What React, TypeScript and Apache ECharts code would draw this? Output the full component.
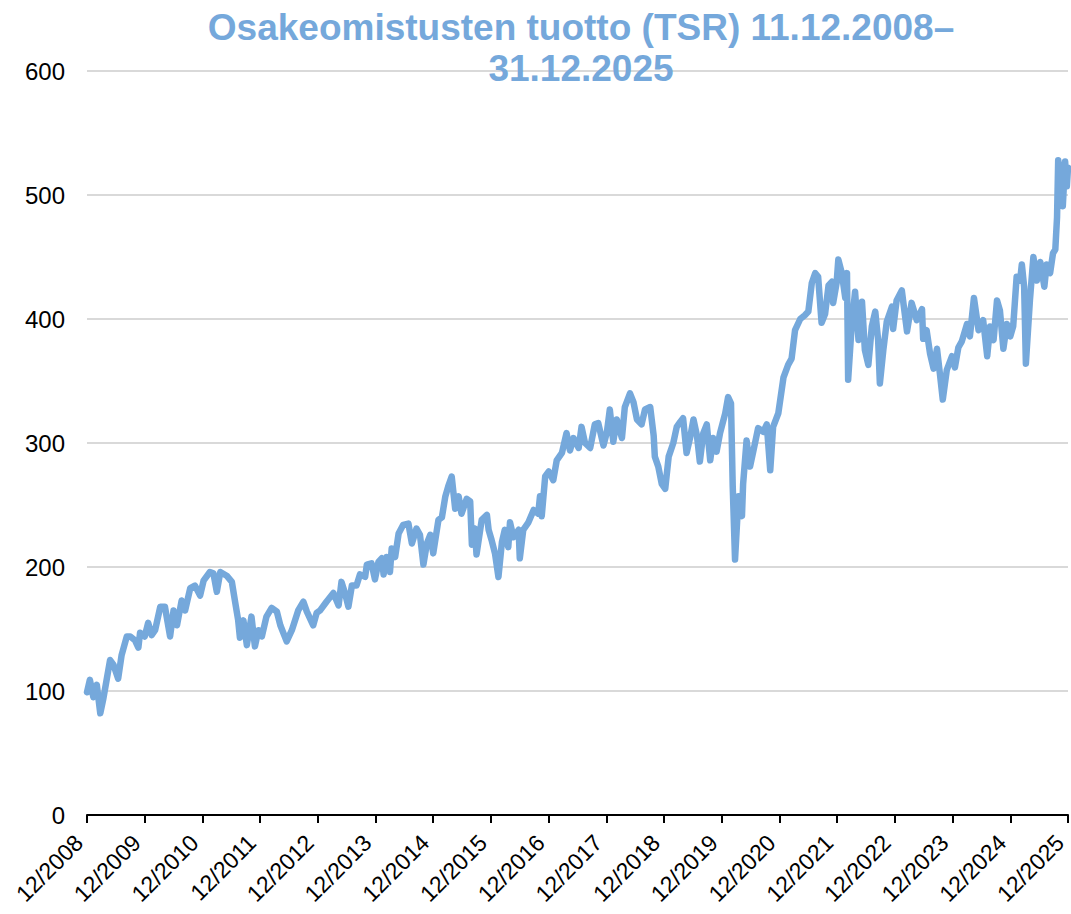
import React, { useEffect, useRef } from "react";
import * as echarts from "echarts";

// x = years elapsed since 12/2008, y = TSR index (start = 100)
const tsr2009to2012: [number, number][] = [
  [0, 99], [0.05, 109], [0.11, 95], [0.17, 105], [0.23, 82], [0.28, 93], [0.34, 109], [0.4, 125],
  [0.46, 121], [0.54, 110], [0.6, 129], [0.69, 144], [0.75, 144], [0.83, 141], [0.89, 135], [0.92, 147],
  [1.0, 144], [1.06, 155], [1.12, 145], [1.18, 149], [1.27, 168], [1.35, 168], [1.44, 144], [1.5, 165],
  [1.56, 153], [1.64, 173], [1.7, 165], [1.79, 183], [1.87, 185], [1.96, 177], [2.02, 189], [2.13, 196],
  [2.19, 195], [2.25, 180], [2.31, 196], [2.42, 193], [2.51, 188], [2.57, 171], [2.62, 157], [2.65, 143],
  [2.71, 157], [2.77, 137], [2.85, 160], [2.91, 136], [2.97, 149], [3.03, 144], [3.11, 160], [3.2, 167],
  [3.29, 164], [3.35, 153], [3.46, 140], [3.55, 149], [3.66, 165], [3.75, 172], [3.81, 164], [3.92, 153],
  [3.98, 163],
];

const tsr2013to2016: [number, number][] = [
  [4.04, 165], [4.15, 172], [4.27, 179], [4.36, 169], [4.41, 188], [4.47, 179], [4.53, 168], [4.59, 185],
  [4.67, 185], [4.73, 194], [4.82, 192], [4.85, 202], [4.93, 203], [4.99, 190], [5.05, 204], [5.11, 207],
  [5.14, 194], [5.19, 208], [5.25, 196], [5.28, 215], [5.34, 208], [5.4, 227], [5.48, 234], [5.57, 235],
  [5.63, 219], [5.71, 231], [5.77, 226], [5.83, 202], [5.89, 219], [5.95, 226], [6.0, 211], [6.09, 238],
  [6.15, 240], [6.21, 257], [6.26, 265], [6.32, 273], [6.38, 247], [6.44, 257], [6.49, 243], [6.58, 255],
  [6.64, 253], [6.67, 218], [6.72, 231], [6.75, 210], [6.84, 238], [6.93, 242], [6.96, 230], [7.01, 222],
  [7.07, 211], [7.13, 192], [7.19, 220], [7.24, 230], [7.3, 216], [7.33, 236], [7.39, 224], [7.48, 230],
  [7.5, 207], [7.56, 230], [7.65, 236], [7.74, 246], [7.82, 243],
];

const tsr2017to2020: [number, number][] = [
  [7.85, 257], [7.88, 241], [7.94, 273], [8.0, 277], [8.08, 270], [8.14, 286], [8.23, 292], [8.31, 308],
  [8.37, 294], [8.43, 304], [8.52, 296], [8.57, 313], [8.63, 300], [8.72, 296], [8.8, 315], [8.86, 316],
  [8.95, 298], [9.01, 309], [9.06, 327], [9.12, 301], [9.18, 319], [9.27, 304], [9.32, 329], [9.41, 340],
  [9.47, 333], [9.53, 319], [9.61, 315], [9.67, 327], [9.76, 329], [9.82, 306], [9.84, 289], [9.9, 281],
  [9.96, 267], [10.02, 263], [10.08, 289], [10.16, 300], [10.22, 313], [10.28, 317], [10.33, 320], [10.39, 292],
  [10.45, 304], [10.51, 319], [10.57, 306], [10.62, 285], [10.68, 308], [10.74, 315], [10.8, 286], [10.85, 304],
  [10.91, 293], [10.97, 308], [11.06, 324], [11.11, 337], [11.16, 332], [11.19, 265], [11.23, 206], [11.29, 257],
  [11.35, 241], [11.37, 267], [11.43, 302], [11.49, 281], [11.55, 294], [11.63, 312], [11.72, 309], [11.78, 315],
  [11.84, 278], [11.89, 313],
];

const tsr2021to2025: [number, number][] = [
  [11.98, 324], [12.07, 353], [12.15, 363], [12.21, 368], [12.27, 391], [12.36, 400], [12.44, 403], [12.5, 406],
  [12.56, 429], [12.62, 437], [12.67, 434], [12.73, 397], [12.79, 404], [12.85, 427], [12.91, 430], [12.93, 413],
  [12.99, 429], [13.02, 448], [13.08, 437], [13.14, 417], [13.17, 437], [13.19, 351], [13.25, 394], [13.31, 422],
  [13.37, 383], [13.43, 414], [13.48, 375], [13.54, 363], [13.6, 394], [13.66, 406], [13.71, 383], [13.74, 348],
  [13.8, 375], [13.86, 398], [13.95, 410], [13.97, 392], [14.03, 415], [14.12, 423], [14.21, 390], [14.29, 413],
  [14.38, 399], [14.47, 408], [14.49, 384], [14.55, 391], [14.61, 372], [14.67, 360], [14.73, 376], [14.78, 356],
  [14.83, 335], [14.9, 359], [14.99, 370], [15.04, 361], [15.1, 377], [15.16, 382], [15.25, 396], [15.3, 386],
  [15.37, 417], [15.45, 391], [15.53, 399], [15.6, 370], [15.65, 394], [15.71, 383], [15.77, 415], [15.82, 407],
  [15.88, 376], [15.94, 396], [16.0, 386], [16.05, 394], [16.11, 434], [16.17, 431], [16.2, 444], [16.24, 426],
  [16.27, 364], [16.34, 415], [16.4, 450], [16.46, 431], [16.52, 446], [16.59, 426], [16.63, 444], [16.69, 437],
  [16.74, 453], [16.78, 456], [16.81, 482], [16.83, 528], [16.88, 512], [16.91, 491], [16.95, 527], [16.98, 507],
  [17.0, 522],
];

const xTickLabels = [
  "12/2008", "12/2009", "12/2010", "12/2011", "12/2012", "12/2013", "12/2014", "12/2015", "12/2016",
  "12/2017", "12/2018", "12/2019", "12/2020", "12/2021", "12/2022", "12/2023", "12/2024", "12/2025",
];

const titleText = "Osakeomistusten tuotto (TSR) 11.12.2008–\n31.12.2025";

const BLUE = "#75A8DB";
const FONT = "'Liberation Sans', Arial, sans-serif";

export default function App() {
  const ref = useRef<HTMLDivElement>(null);

  useEffect(() => {
    if (!ref.current) return;
    const chart = echarts.init(ref.current, null, { renderer: "svg" });
    const data = [...tsr2009to2012, ...tsr2013to2016, ...tsr2017to2020, ...tsr2021to2025];
    chart.setOption({
      animation: false,
      backgroundColor: "#ffffff",
      title: {
        text: titleText,
        left: 576,
        top: 2,
        textAlign: "center",
        z: 10,
        textStyle: {
          fontFamily: FONT,
          fontSize: 37,
          fontWeight: "bold",
          color: BLUE,
          lineHeight: 41,
        },
      },
      grid: {
        left: 87,
        right: 3,
        top: 71,
        bottom: 99,
        containLabel: false,
        outerBoundsMode: "none",
      },
      xAxis: {
        type: "value",
        min: 0,
        max: 17,
        interval: 1,
        axisLine: { show: true, lineStyle: { color: "#000000", width: 2 } },
        axisTick: { show: true, length: 8, lineStyle: { color: "#000000", width: 2 } },
        splitLine: { show: false },
        axisLabel: {
          rotate: 45,
          margin: 32,
          verticalAlign: "bottom",
          fontFamily: FONT,
          fontSize: 23,
          color: "#000000",
          formatter: (v: number) => xTickLabels[Math.round(v)] ?? "",
        },
      },
      yAxis: {
        type: "value",
        min: 0,
        max: 600,
        interval: 100,
        axisLine: { show: false },
        axisTick: { show: false },
        splitLine: { show: true, lineStyle: { color: "#d9d9d9", width: 2 } },
        axisLabel: {
          margin: 22,
          fontFamily: FONT,
          fontSize: 24,
          color: "#000000",
        },
      },
      series: [
        {
          type: "line",
          data,
          showSymbol: false,
          symbol: "none",
          lineStyle: { color: BLUE, width: 6.5, join: "round", cap: "round" },
          z: 3,
        },
      ],
    });
    return () => chart.dispose();
  }, []);

  return (
    <div
      ref={ref}
      style={{ position: "absolute", left: 0, top: 0, width: 1071, height: 914 }}
    />
  );
}
